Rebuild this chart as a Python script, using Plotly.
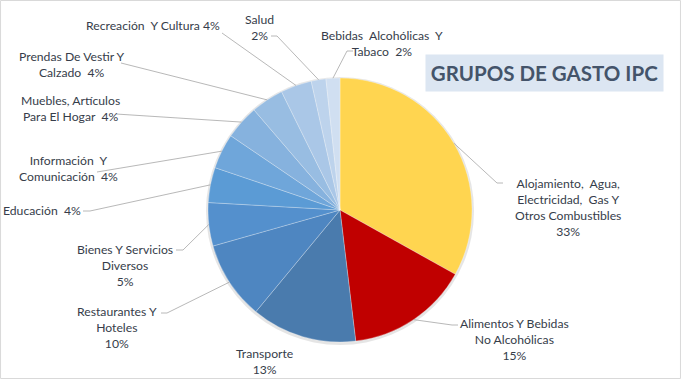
import math
import plotly.graph_objects as go

# ---------------- data ----------------
categories = [
    "Alojamiento, Agua, Electricidad, Gas Y Otros Combustibles",
    "Alimentos Y Bebidas No Alcohólicas",
    "Transporte",
    "Restaurantes Y Hoteles",
    "Bienes Y Servicios Diversos",
    "Educación",
    "Información Y Comunicación",
    "Muebles, Artículos Para El Hogar",
    "Prendas De Vestir Y Calzado",
    "Recreación Y Cultura",
    "Salud",
    "Bebidas Alcohólicas Y Tabaco",
]
weights = [33.1, 15.0, 12.9, 9.6, 5.3, 4.3, 4.3, 4.2, 4.0, 3.8, 1.8, 1.7]
label_text = [
    "Alojamiento,  Agua,<br>Electricidad,  Gas Y<br>Otros Combustibles<br>{p}",
    "Alimentos Y Bebidas<br>No Alcohólicas<br>{p}",
    "Transporte<br>{p}",
    "Restaurantes Y<br>Hoteles<br>{p}",
    "Bienes Y Servicios<br>Diversos<br>{p}",
    "Educación  {p}",
    "Información  Y<br>Comunicación  {p}",
    "Muebles, Artículos<br>Para El Hogar  {p}",
    "Prendas De Vestir Y<br>Calzado  {p}",
    "Recreación  Y Cultura {p}",
    "Salud<br>{p}",
    "Bebidas  Alcohólicas  Y<br>Tabaco  {p}",
]
title_text = "GRUPOS DE GASTO IPC"

# ---------------- styles / layout ----------------
colors = ["#FFD550", "#C00000", "#4A7BAD", "#4E86C1", "#5490CD", "#5B9BD5",
          "#6FA6DA", "#86B2DE", "#98BDE2", "#AAC7E7", "#BDD3EC", "#D0DFF1"]
W, H = 681, 379
CX, CY, R = 340, 210, 132  # pixel geometry of the pie

# label block centres (px) and leader line (elbow, end) in px
label_pos = [(568, 207), (514, 339), (264, 361), (117, 327), (125, 265), (42, 210),
             (68, 169), (70, 109), (72, 65), (153, 26), (259, 27), (382, 44)]
leaders = [
    ((497, 183), (503, 183)),
    ((452, 325), (458, 325)),
    None,
    ((167, 313), (161, 313)),
    ((183, 250), (176, 250)),
    ((90, 211), (83, 211)),
    ((97, 172), (97, 172)),
    ((116, 114), (116, 114)),
    ((121, 63), (121, 63)),
    ((222, 33), (222, 33)),
    ((277, 36), (271, 36)),
    ((347, 51), (353, 51)),
]

def px(x):
    return x / W

def py(y):
    return 1 - y / H

fig = go.Figure()
# soft shadow behind the pie
SR = R + 2
fig.add_trace(go.Pie(
    values=[1], labels=["shadow"], textinfo="none", hoverinfo="skip", sort=False,
    marker=dict(colors=["rgba(0,0,0,0.10)"], line=dict(width=0)),
    domain=dict(x=[px(CX - SR), px(CX + SR)], y=[py(CY + 1 + SR), py(CY + 1 - SR)]),
    showlegend=False,
))
fig.add_trace(go.Pie(
    labels=categories,
    values=weights,
    sort=False,
    direction="clockwise",
    rotation=0,
    textinfo="none",
    hoverinfo="label+percent",
    marker=dict(colors=colors, line=dict(color="rgba(255,255,255,0.45)", width=0.6)),
    domain=dict(x=[px(CX - R), px(CX + R)], y=[py(CY + R), py(CY - R)]),
    showlegend=False,
))

total = sum(weights)
shapes = [dict(type="rect", xref="paper", yref="paper", x0=0.0008, y0=0.0013, x1=0.9992, y1=0.9987,
               line=dict(color="#D9D9D9", width=1), fillcolor="rgba(0,0,0,0)")]
annotations = []
cum = 0.0
for i, v in enumerate(weights):
    mid = (cum + v / 2) / total * 2 * math.pi
    cum += v
    ex = CX + R * math.sin(mid)
    ey = CY - R * math.cos(mid)
    if leaders[i] is not None:
        (bx, by), (tx, ty) = leaders[i]
        shapes.append(dict(type="path", xref="paper", yref="paper",
                           path=f"M {px(ex)},{py(ey)} L {px(bx)},{py(by)} L {px(tx)},{py(ty)}",
                           line=dict(color="#A6A6A6", width=0.8)))
    pct = f"{round(v / total * 100):.0f}%"
    lx, ly = label_pos[i]
    annotations.append(dict(
        x=px(lx), y=py(ly), xref="paper", yref="paper", showarrow=False,
        text=label_text[i].format(p=pct), align="center", xanchor="center", yanchor="middle",
        font=dict(family="Lato, Open Sans, sans-serif", size=12.2, color="#363D4A"),
    ))

annotations.append(dict(
    x=px(544.5), y=py(73), xref="paper", yref="paper", showarrow=False,
    text=f"<b>{title_text}</b>", xanchor="center", yanchor="middle",
    width=235, height=34, bgcolor="#DCE6F2",
    font=dict(family="Lato, Open Sans, sans-serif", size=20.5, color="#44546A"),
))

fig.update_layout(
    width=W, height=H,
    margin=dict(l=0, r=0, t=0, b=0),
    paper_bgcolor="white", plot_bgcolor="white",
    shapes=shapes, annotations=annotations,
)

fig.write_html("out.html", config={"displayModeBar": False},
               post_script="document.body.style.margin='0';document.body.style.overflow='hidden';")
